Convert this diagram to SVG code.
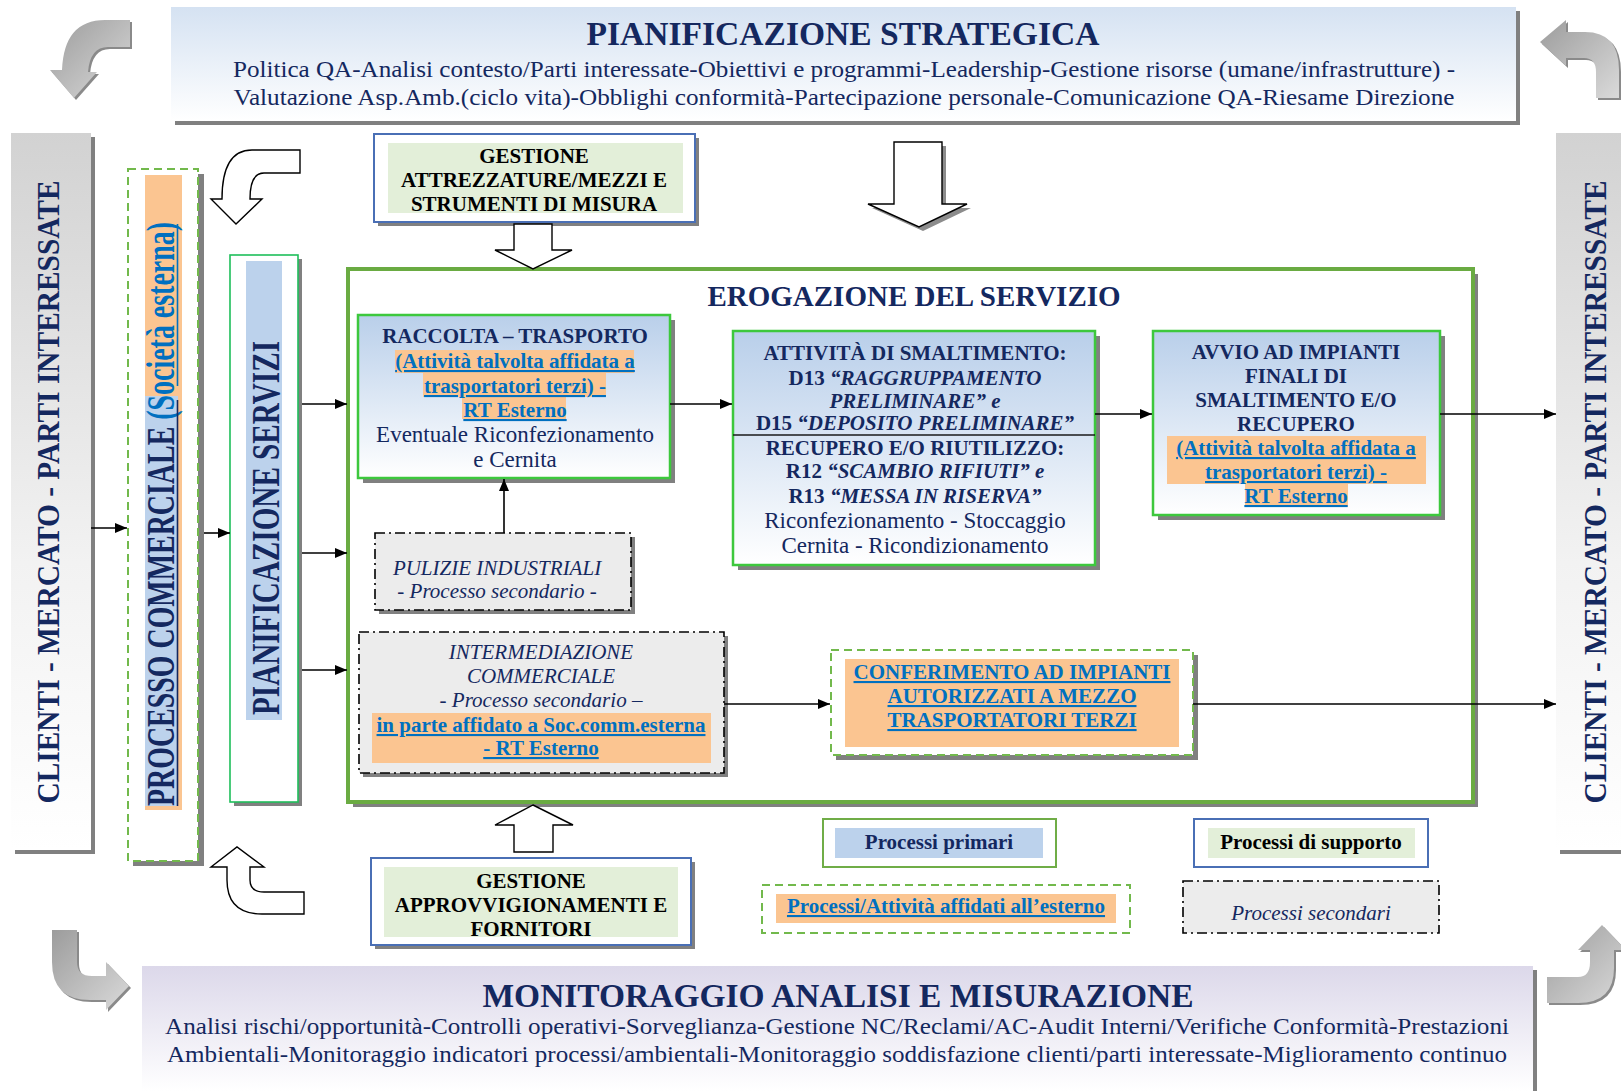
<svg xmlns="http://www.w3.org/2000/svg" width="1621" height="1091" viewBox="0 0 1621 1091">
<style>
text{font-family:"Liberation Serif","Times New Roman",serif;text-anchor:middle}
.nb{fill:#14285f;font-weight:bold}
.nr{fill:#14285f}
.ni{fill:#14285f;font-style:italic}
.lk{fill:#0070c0;font-weight:bold;text-decoration:underline}
.bk{fill:#000;font-weight:bold}
.sh{fill:#808080}
.box{fill:url(#gBox);stroke:#3dc83d;stroke-width:2.5}
.sec{fill:#ececec;stroke:#000;stroke-width:1.6;stroke-dasharray:10 4 2 4}
.dg{fill:#fff;stroke:#72b94c;stroke-width:2;stroke-dasharray:8 5}
.org{fill:#fbc591}
.blu{fill:#bcd2ec}
.grn{fill:#e3efd9}
.sup{fill:#fff;stroke:#4a6fb5;stroke-width:2}
.ga{fill:url(#gArr)}
.wa{fill:#fff;stroke:#000;stroke-width:1.4}
.cn{stroke:#000;stroke-width:1.6;fill:none;marker-end:url(#ah)}
</style>
<defs>
<linearGradient id="gTop" x1="0" y1="0" x2="0" y2="1"><stop offset="0" stop-color="#d5e2f2"/><stop offset="1" stop-color="#ffffff"/></linearGradient>
<linearGradient id="gBot" x1="0" y1="0" x2="0" y2="1"><stop offset="0" stop-color="#dcd8ea"/><stop offset="1" stop-color="#ffffff"/></linearGradient>
<linearGradient id="gBand" x1="0" y1="0" x2="0" y2="1"><stop offset="0" stop-color="#d2d2d2"/><stop offset="0.6" stop-color="#f2f2f2"/><stop offset="1" stop-color="#ffffff"/></linearGradient>
<linearGradient id="gBox" x1="0" y1="0" x2="0" y2="1"><stop offset="0" stop-color="#b9cfea"/><stop offset="1" stop-color="#ffffff"/></linearGradient>
<linearGradient id="gArr" x1="0" y1="0" x2="1" y2="1"><stop offset="0" stop-color="#9c9c9c"/><stop offset="1" stop-color="#dadada"/></linearGradient>
<marker id="ah" markerWidth="12" markerHeight="10" refX="12" refY="5" orient="auto" markerUnits="userSpaceOnUse"><path d="M0,0 L12,5 L0,10 Z" fill="#000"/></marker>
</defs>
<rect width="1621" height="1091" fill="#fff"/>

<g id="pianificazione-strategica">
<rect class="sh" x="175" y="11" width="1345" height="114"/>
<rect x="171" y="7" width="1345" height="114" fill="url(#gTop)"/>
<text class="nb" x="843" y="45" font-size="34" textLength="513" lengthAdjust="spacingAndGlyphs">PIANIFICAZIONE STRATEGICA</text>
<text class="nr" x="844" y="77" font-size="22.5" textLength="1222" lengthAdjust="spacingAndGlyphs">Politica QA-Analisi contesto/Parti interessate-Obiettivi e programmi-Leadership-Gestione risorse (umane/infrastrutture) -</text>
<text class="nr" x="844" y="105" font-size="22.5" textLength="1221" lengthAdjust="spacingAndGlyphs">Valutazione Asp.Amb.(ciclo vita)-Obblighi conformità-Partecipazione personale-Comunicazione QA-Riesame Direzione</text>
</g>

<g id="monitoraggio">
<rect class="sh" x="146" y="970" width="1391" height="121"/>
<rect x="142" y="966" width="1391" height="125" fill="url(#gBot)"/>
<text class="nb" x="838" y="1007" font-size="34" textLength="711" lengthAdjust="spacingAndGlyphs">MONITORAGGIO ANALISI E MISURAZIONE</text>
<text class="nr" x="837" y="1034" font-size="22.5" textLength="1344" lengthAdjust="spacingAndGlyphs">Analisi rischi/opportunità-Controlli operativi-Sorveglianza-Gestione NC/Reclami/AC-Audit Interni/Verifiche Conformità-Prestazioni</text>
<text class="nr" x="837" y="1062" font-size="22.5" textLength="1340" lengthAdjust="spacingAndGlyphs">Ambientali-Monitoraggio indicatori processi/ambientali-Monitoraggio soddisfazione clienti/parti interessate-Miglioramento continuo</text>
</g>

<g id="cycle-arrows">
<path d="M132,22 L132,49 L110,49 Q92,49 90,74 L99,74 L76,100 L52,72 L64,72 Q66,22 107,22 Z" fill="#8a8a8a"/>
<path class="ga" d="M130,20 L130,47 L108,47 Q90,47 88,72 L97,72 L74,98 L50,70 L62,70 Q64,20 105,20 Z"/>
<path d="M1542,44 L1568,22 L1568,34 L1587,34 Q1621,34 1621,72 L1621,100 L1598,100 L1598,74 Q1598,60 1586,60 L1568,60 L1568,68 Z" fill="#8a8a8a"/>
<path class="ga" d="M1540,42 L1566,20 L1566,32 L1585,32 Q1619,32 1619,70 L1619,98 L1596,98 L1596,72 Q1596,58 1584,58 L1566,58 L1566,66 Z"/>
<path d="M54,932 L79,932 L79,964 Q79,978 94,978 L108,978 L108,964 L131,988 L108,1012 L108,1002 L92,1002 Q54,1002 54,964 Z" fill="#8a8a8a"/>
<path class="ga" d="M52,930 L77,930 L77,962 Q77,976 92,976 L106,976 L106,962 L129,986 L106,1010 L106,1000 L90,1000 Q52,1000 52,962 Z"/>
<path d="M1549,979 L1580,979 Q1592,979 1592,964 L1592,952 L1580,952 L1604,927 L1628,952 L1616,952 L1616,970 Q1616,1005 1580,1005 L1549,1005 Z" fill="#8a8a8a"/>
<path class="ga" d="M1547,977 L1578,977 Q1590,977 1590,962 L1590,950 L1578,950 L1602,925 L1626,950 L1614,950 L1614,968 Q1614,1003 1578,1003 L1547,1003 Z"/>
</g>

<g id="clienti-sx">
<rect class="sh" x="15" y="137" width="80" height="717"/>
<rect x="11" y="133" width="80" height="717" fill="url(#gBand)"/>
<text class="nb" font-size="32" transform="translate(59,492) rotate(-90)" textLength="623" lengthAdjust="spacingAndGlyphs">CLIENTI - MERCATO - PARTI INTERESSATE</text>
</g>

<g id="clienti-dx">
<rect class="sh" x="1560" y="137" width="70" height="717"/>
<rect x="1556" y="133" width="70" height="717" fill="url(#gBand)"/>
<text class="nb" font-size="32" transform="translate(1606,492) rotate(-90)" textLength="623" lengthAdjust="spacingAndGlyphs">CLIENTI - MERCATO - PARTI INTERESSATE</text>
</g>

<g id="processo-commerciale">
<rect class="sh" x="133" y="174" width="71" height="692"/>
<rect class="dg" x="128" y="169" width="70" height="692"/>
<rect class="org" x="145" y="175" width="37" height="635"/>
<rect class="blu" x="145" y="396" width="33" height="410"/>
<text font-size="41" font-weight="bold" transform="translate(174,514) rotate(-90)" textLength="584" lengthAdjust="spacingAndGlyphs"><tspan fill="#14285f">PROCESSO COMMERCIALE </tspan><tspan fill="#0070c0">(Società esterna)</tspan></text>
<line x1="177.5" y1="806" x2="177.5" y2="400" stroke="#14285f" stroke-width="1.6"/>
<line x1="177.5" y1="386" x2="177.5" y2="224" stroke="#0070c0" stroke-width="1.6"/>
</g>

<g id="pianificazione-servizi">
<rect class="sh" x="234" y="259" width="68" height="547"/>
<rect x="230" y="255" width="68" height="547" fill="#fff" stroke="#1fbf5a" stroke-width="1.6"/>
<rect class="blu" x="246" y="261" width="36" height="459"/>
<text class="nb" font-size="41" transform="translate(279,528) rotate(-90)" textLength="374" lengthAdjust="spacingAndGlyphs">PIANIFICAZIONE SERVIZI</text>
</g>

<g id="gestione-attrezzature">
<rect class="sh" x="378" y="138" width="321" height="88"/>
<rect class="sup" x="374" y="134" width="321" height="88"/>
<rect class="grn" x="388" y="143" width="295" height="70"/>
<text class="bk" x="534" y="163" font-size="21">GESTIONE</text>
<text class="bk" x="534" y="187" font-size="21">ATTREZZATURE/MEZZI E</text>
<text class="bk" x="534" y="211" font-size="21">STRUMENTI DI MISURA</text>
</g>

<g id="erogazione">
<rect class="sh" x="353" y="274" width="1125" height="533"/>
<rect x="348" y="269" width="1125" height="533" fill="#fff" stroke="#6aab42" stroke-width="4"/>
<text class="nb" x="914" y="306" font-size="29">EROGAZIONE DEL SERVIZIO</text>
</g>

<g id="block-arrows">
<path class="wa" d="M300,150 L252,150 Q222,150 222,199 L211,199 L236,224 L262,199 L250,199 Q250,173 264,173 L300,173 Z"/>
<path class="wa" d="M211,867 L237,847 L264,867 L250,867 L250,880 Q250,892 264,892 L304,892 L304,914 L262,914 Q227,914 227,880 L227,867 Z"/>
<path d="M898,146 L946,146 L946,208 L971,208 L923,231 L872,208 L898,208 Z" fill="#8c8c8c"/>
<path class="wa" d="M894,142 L942,142 L942,204 L967,204 L919,227 L868,204 L894,204 Z"/>
<path class="wa" d="M514,224 L552,224 L552,250 L572,250 L533,269 L495,250 L514,250 Z"/>
<path class="wa" d="M533,805 L573,825 L553,825 L553,852 L514,852 L514,825 L495,825 Z"/>
</g>

<g id="raccolta">
<rect class="sh" x="363" y="320" width="312" height="163"/>
<rect class="box" x="358" y="315" width="312" height="163"/>
<rect class="org" x="395" y="350" width="239" height="23"/>
<rect class="org" x="423" y="373" width="183" height="24"/>
<rect class="org" x="462" y="397" width="104" height="22"/>
<text class="nb" x="515" y="343" font-size="21">RACCOLTA – TRASPORTO</text>
<text class="lk" x="515" y="368" font-size="21">(Attività talvolta affidata a</text>
<text class="lk" x="515" y="393" font-size="21">trasportatori terzi) -</text>
<text class="lk" x="515" y="417" font-size="21">RT Esterno</text>
<text class="nr" x="515" y="442" font-size="23">Eventuale Riconfezionamento</text>
<text class="nr" x="515" y="467" font-size="23">e Cernita</text>
</g>

<g id="smaltimento">
<rect class="sh" x="738" y="336" width="362" height="234"/>
<rect class="box" x="733" y="331" width="362" height="234"/>
<line x1="733" y1="435" x2="1095" y2="435" stroke="#1a1a1a" stroke-width="1.6"/>
<text class="nb" x="915" y="360" font-size="21">ATTIVITÀ DI SMALTIMENTO:</text>
<text class="nb" x="915" y="385" font-size="21">D13 <tspan font-style="italic">“RAGGRUPPAMENTO</tspan></text>
<text class="nb" x="915" y="408" font-size="21" font-style="italic">PRELIMINARE” e</text>
<text class="nb" x="915" y="430" font-size="21">D15 <tspan font-style="italic">“DEPOSITO PRELIMINARE”</tspan></text>
<text class="nb" x="915" y="455" font-size="21">RECUPERO E/O RIUTILIZZO:</text>
<text class="nb" x="915" y="478" font-size="21">R12 <tspan font-style="italic">“SCAMBIO RIFIUTI” e</tspan></text>
<text class="nb" x="915" y="503" font-size="21">R13 <tspan font-style="italic">“MESSA IN RISERVA”</tspan></text>
<text class="nr" x="915" y="528" font-size="23">Riconfezionamento - Stoccaggio</text>
<text class="nr" x="915" y="553" font-size="23">Cernita - Ricondizionamento</text>
</g>

<g id="avvio">
<rect class="sh" x="1158" y="336" width="287" height="184"/>
<rect class="box" x="1153" y="331" width="287" height="184"/>
<rect class="org" x="1167" y="436" width="259" height="48"/>
<rect class="org" x="1245" y="484" width="103" height="23"/>
<text class="nb" x="1296" y="359" font-size="21">AVVIO AD IMPIANTI</text>
<text class="nb" x="1296" y="383" font-size="21">FINALI DI</text>
<text class="nb" x="1296" y="407" font-size="21">SMALTIMENTO E/O</text>
<text class="nb" x="1296" y="431" font-size="21">RECUPERO</text>
<text class="lk" x="1296" y="455" font-size="21">(Attività talvolta affidata a</text>
<text class="lk" x="1296" y="479" font-size="21">trasportatori terzi) -</text>
<text class="lk" x="1296" y="503" font-size="21">RT Esterno</text>
</g>

<g id="pulizie">
<rect class="sh" x="379" y="537" width="256" height="77"/>
<rect class="sec" x="375" y="533" width="256" height="77"/>
<text class="ni" x="497" y="575" font-size="21">PULIZIE INDUSTRIALI</text>
<text class="ni" x="497" y="598" font-size="21">- Processo secondario -</text>
</g>

<g id="intermediazione">
<rect class="sh" x="363" y="636" width="365" height="141"/>
<rect class="sec" x="359" y="632" width="365" height="141"/>
<rect class="org" x="372" y="713" width="339" height="50"/>
<text class="ni" x="541" y="659" font-size="21">INTERMEDIAZIONE</text>
<text class="ni" x="541" y="683" font-size="21">COMMERCIALE</text>
<text class="ni" x="541" y="707" font-size="21">- Processo secondario –</text>
<text class="lk" x="541" y="732" font-size="21">in parte affidato a Soc.comm.esterna</text>
<text class="lk" x="541" y="755" font-size="21">- RT Esterno</text>
</g>

<g id="conferimento">
<rect class="sh" x="836" y="655" width="362" height="105"/>
<rect class="dg" x="831" y="650" width="362" height="105"/>
<rect class="org" x="845" y="659" width="334" height="88"/>
<text class="lk" x="1012" y="679" font-size="21">CONFERIMENTO AD IMPIANTI</text>
<text class="lk" x="1012" y="703" font-size="21">AUTORIZZATI A MEZZO</text>
<text class="lk" x="1012" y="727" font-size="21">TRASPORTATORI TERZI</text>
</g>

<g id="gestione-approvvigionamenti">
<rect class="sh" x="375" y="862" width="320" height="87"/>
<rect class="sup" x="371" y="858" width="320" height="87"/>
<rect class="grn" x="384" y="867" width="294" height="70"/>
<text class="bk" x="531" y="888" font-size="21">GESTIONE</text>
<text class="bk" x="531" y="912" font-size="21">APPROVVIGIONAMENTI E</text>
<text class="bk" x="531" y="936" font-size="21">FORNITORI</text>
</g>

<g id="legenda">
<rect x="823" y="819" width="233" height="48" fill="#fff" stroke="#70ad47" stroke-width="2"/>
<rect class="blu" x="835" y="828" width="208" height="30"/>
<text class="nb" x="939" y="849" font-size="21">Processi primari</text>
<rect x="762" y="885" width="368" height="48" fill="#fff" stroke="#72b94c" stroke-width="2" stroke-dasharray="8 5"/>
<rect class="org" x="776" y="894" width="340" height="29"/>
<text class="lk" x="946" y="913" font-size="21">Processi/Attività affidati all’esterno</text>
<rect class="sup" x="1194" y="819" width="234" height="48"/>
<rect class="grn" x="1208" y="828" width="207" height="30"/>
<text class="bk" x="1311" y="849" font-size="21">Processi di supporto</text>
<rect class="sec" x="1183" y="881" width="256" height="52"/>
<text class="ni" x="1311" y="920" font-size="21">Processi secondari</text>
</g>

<g id="connectors">
<line class="cn" x1="91" y1="528" x2="127" y2="528"/>
<line class="cn" x1="204" y1="533" x2="230" y2="533"/>
<line class="cn" x1="302" y1="404" x2="347" y2="404"/>
<line class="cn" x1="302" y1="553" x2="347" y2="553"/>
<line class="cn" x1="302" y1="670" x2="347" y2="670"/>
<line class="cn" x1="670" y1="404" x2="732" y2="404"/>
<line class="cn" x1="1095" y1="414" x2="1152" y2="414"/>
<line class="cn" x1="1440" y1="414" x2="1556" y2="414"/>
<line class="cn" x1="504" y1="533" x2="504" y2="479"/>
<line class="cn" x1="724" y1="704" x2="830" y2="704"/>
<line class="cn" x1="1193" y1="704" x2="1556" y2="704"/>
</g>
</svg>
